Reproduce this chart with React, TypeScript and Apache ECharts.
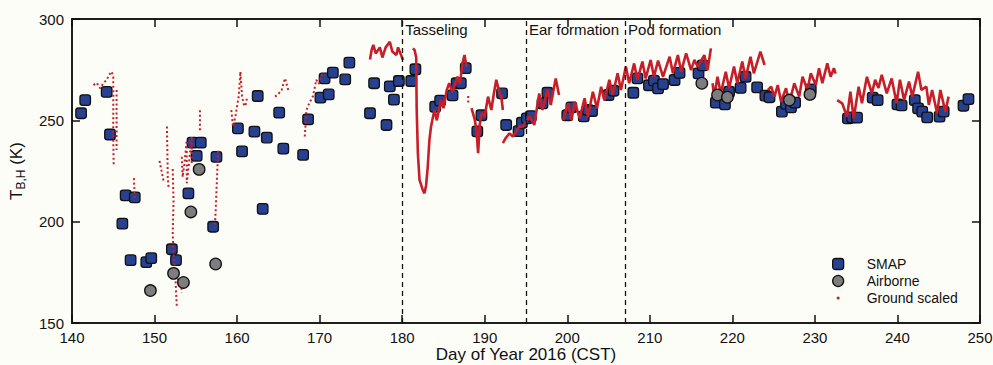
import React, { useEffect, useRef } from "react";
import * as echarts from "echarts";

const xTicks = [140, 150, 160, 170, 180, 190, 200, 210, 220, 230, 240, 250];
const yTicks = [150, 200, 250, 300];

const smapPoints: [number, number][] = [
  [141.1, 253.5], [141.6, 260], [144.2, 264], [144.6, 243], [146.1, 199], [146.5, 213],
  [147.1, 181], [147.6, 212], [149.0, 180], [149.6, 182], [152.1, 186.4], [152.6, 181],
  [154.1, 214], [154.6, 239], [155.1, 232.5], [155.6, 239], [157.1, 197.5], [157.5, 232],
  [160.1, 246], [160.6, 234.7], [162.1, 244.4], [162.5, 262], [163.1, 206.3], [163.6, 241.5],
  [165.1, 253.8], [165.6, 236], [168.0, 233], [168.6, 250.5], [170.1, 261.2], [170.6, 270.7],
  [171.1, 262.8], [171.6, 273.5], [173.1, 270.2], [173.6, 278.5], [176.1, 253.5], [176.6, 268.3],
  [178.1, 247.7], [178.5, 266.8], [179.0, 260.2], [179.6, 269.4], [181.1, 269.4], [181.6, 275.2],
  [184.0, 256.7], [184.6, 259.7], [186.1, 262.3], [186.6, 268.3], [187.1, 268.3], [187.7, 275.8],
  [189.1, 244.6], [189.6, 252.5], [192.1, 263.3], [192.6, 247.7], [194.1, 244.7], [194.5, 248.8],
  [195.1, 251], [195.6, 252.1], [197.0, 258.4], [197.6, 263.6], [200.0, 252.5], [200.5, 256.4],
  [202.0, 252], [202.5, 255.1], [203.0, 254.6], [205.0, 262.5], [205.6, 264.6], [208.0, 263.6],
  [208.5, 270.7], [209.9, 267.3], [210.5, 269.6], [211.0, 265.8], [211.6, 267.9], [213.0, 269.9],
  [213.6, 273.4], [215.9, 273.2], [216.4, 277.1], [218.0, 258.7], [219.1, 257.9], [219.6, 264.1],
  [221.0, 266], [221.6, 271.5], [223.0, 266.3], [224.0, 262.2], [224.5, 261.4], [226.0, 254.3],
  [226.5, 258.1], [227.1, 256.4], [227.6, 258.7], [229.5, 265.3], [234.0, 251], [234.5, 251.5],
  [235.1, 251.3], [237.0, 261.2], [237.6, 260], [240.0, 257.9], [240.5, 257.4], [242.1, 260],
  [242.5, 255.9], [243.0, 254.3], [243.6, 251.5], [245.1, 251.8], [245.6, 254.3], [248.0, 257.2],
  [248.6, 260.5],
];

const airbornePoints: [number, number][] = [
  [149.5, 166], [152.3, 174.5], [153.5, 170], [154.4, 204.8], [155.4, 225.8], [157.4, 179.1],
  [216.3, 268.3], [218.2, 262.5], [219.4, 261.4], [226.9, 260], [229.4, 262.8],
];

// sparse ground measurements (early season, drawn dotted)
const groundSparse: [number, number][][] = [
  [[142.6, 267.4], [143.0, 268.5], [143.4, 265.8], [143.8, 268.3], [144.2, 270], [144.5, 272.5],
   [144.8, 274], [145.0, 271.5], [145.0, 255], [145.0, 240], [145.05, 228]],
  [[145.4, 265], [145.4, 250], [145.4, 235.4]],
  [[147.5, 221.5], [147.6, 211]],
  [[150.6, 230], [150.9, 224], [151.1, 220]],
  [[151.5, 247], [151.55, 235], [151.6, 222], [151.7, 217]],
  [[152.2, 226], [152.3, 210], [152.2, 194], [152.3, 184], [152.5, 176], [152.6, 166], [152.7, 158]],
  [[152.8, 172], [153.0, 168], [153.2, 170], [153.3, 165]],
  [[153.3, 232], [153.4, 222], [153.6, 228], [153.9, 240], [153.9, 219], [154.1, 226], [154.5, 242], [154.5, 229]],
  [[155.5, 255], [155.5, 245]],
  [[157.7, 235], [157.6, 225], [157.5, 215], [157.4, 205], [157.3, 197]],
  [[159.3, 255], [159.5, 247], [159.8, 252], [160.2, 262], [160.4, 274], [160.5, 268], [160.6, 262],
   [160.8, 258], [161.0, 257], [161.2, 261]],
  [[164.6, 261.7], [165.0, 263], [165.4, 265], [165.8, 270.7], [166.2, 265]],
  [[168.2, 242], [168.4, 255], [168.7, 258], [169.2, 262], [169.6, 270], [169.9, 268], [170.4, 274]],
  [[188.0, 262], [188.0, 258]],
];

// dense ground measurements (drawn as continuous traces)
const groundDense: [number, number][][] = [
  [[176.1, 280], [176.3, 284.7], [176.5, 287.2], [176.8, 283], [177.3, 286], [177.6, 281], [178.0, 286],
   [178.5, 288.8], [178.8, 284], [179.3, 282.2], [179.5, 286], [180.1, 279.8]],
  [[181.3, 285.5], [181.5, 284.7], [181.7, 281], [181.75, 256.7], [181.9, 233.8], [182.1, 220.6],
   [182.5, 215.6], [182.7, 214], [182.9, 218], [183.1, 227.2], [183.3, 240.3], [183.5, 247],
   [183.9, 255.1], [184.2, 250], [184.7, 260], [185.0, 256], [185.4, 265], [185.7, 268.3],
   [186.1, 264], [186.7, 271.5], [187.0, 268], [187.3, 278.1], [187.55, 282.2], [187.8, 276.5]],
  [[188.4, 256], [188.8, 250.2], [189.0, 245], [189.2, 233.8], [189.4, 248], [189.6, 253.5],
   [190.0, 252], [190.4, 261.7], [190.8, 255.1], [191.1, 263], [191.4, 270], [191.8, 263.3],
   [192.0, 262], [192.2, 255.1]],
  [[192.2, 238.7], [192.5, 241], [193.0, 243.6], [193.4, 242], [193.8, 244.4], [194.2, 247],
   [194.6, 246.9], [195.0, 249], [195.4, 251.8], [195.7, 250], [196.0, 247.7], [196.6, 263.3],
   [197.0, 255.1], [197.6, 265], [198.0, 257.6], [198.6, 270.7], [199.0, 262.5]],
  [[199.5, 250.2], [200.1, 258.4], [200.5, 250.2], [200.9, 259.2], [201.5, 251], [202.1, 260.9],
   [202.5, 251.8], [203.1, 264.1], [203.6, 256], [204.1, 266.6], [204.5, 260], [205.1, 270],
   [205.5, 262.5], [206.1, 273.2], [206.5, 265], [207.1, 276.5], [207.5, 268.3], [208.1, 278.1],
   [208.5, 270], [209.1, 279], [209.5, 270.7], [210.1, 279.8], [210.5, 271.5], [211.0, 279.5],
   [211.6, 271.5], [212.4, 281.4], [212.8, 273.2], [213.4, 282.2], [213.8, 274], [214.4, 283.1],
   [215.0, 274.8], [215.4, 279.8], [215.8, 276.5], [216.6, 282.2], [217.0, 274.8], [217.4, 285.5]],
  [[217.6, 268.3], [217.8, 261.7], [218.2, 271.5], [218.6, 263.3], [219.2, 274], [219.6, 265.8],
   [220.2, 276.5], [220.6, 268.3], [221.2, 279], [221.6, 270.7], [222.2, 281.4], [222.6, 273.2],
   [223.4, 283.9], [223.9, 277.3]],
  [[224.3, 265], [224.7, 266.6], [225.1, 261.7], [225.5, 267.4], [225.9, 259.2], [226.5, 265.8],
   [226.9, 258.4], [227.5, 268.3], [228.1, 261.7], [228.5, 271.5], [229.1, 265], [229.5, 273.2],
   [230.1, 267.4], [230.5, 275.7], [230.9, 268.3], [231.5, 278.1], [231.9, 271.5], [232.3, 275.7],
   [232.5, 273]],
  [[232.7, 260], [233.3, 258.4], [233.9, 251.8], [234.3, 264.1], [234.7, 251], [235.3, 266.6],
   [235.7, 258.4], [236.3, 271.5], [236.9, 263.3], [237.3, 270], [237.7, 266], [238.1, 272.4],
   [238.7, 263.3], [239.3, 270.7], [239.9, 258.4], [240.3, 270], [240.8, 260], [241.4, 269.1],
   [241.8, 261.7], [242.5, 274], [242.9, 265], [243.5, 266.6], [243.8, 257.6], [244.2, 265],
   [244.8, 253.5], [245.2, 265], [245.8, 254.3], [246.2, 261.7]],
];

const stageDays = [180, 195, 207];
const stageNames = ["Tasseling", "Ear formation", "Pod formation"];

const FONT = "Liberation Sans";
const BG = "#fdfdf8";
const RED = "#c61f2a";
const BLUE = "#27408f";
const GRAY = "#7d7d7d";
const dotIcon =
  "path://M0,0 M10,10 M3.6,5 A1.4,1.4 0 1 0 6.4,5 A1.4,1.4 0 1 0 3.6,5 Z";

export default function App() {
  const ref = useRef<HTMLDivElement>(null);
  useEffect(() => {
    if (!ref.current) return;
    const chart = echarts.init(ref.current, undefined, { renderer: "svg" });
    const xMin = xTicks[0];
    const xMax = xTicks[xTicks.length - 1];
    const yMin = yTicks[0];
    const yMax = yTicks[yTicks.length - 1];

    const axisCommon = {
      type: "value" as const,
      axisLine: { show: true, onZero: false, lineStyle: { color: "#111", width: 1.5 } },
      axisTick: { show: true, inside: true, length: 8, lineStyle: { color: "#111", width: 1.5 } },
      splitLine: { show: false },
    };
    const series: any[] = [
      {
        type: "scatter",
        name: "SMAP",
        data: smapPoints,
        symbol: "roundRect",
        symbolSize: 10.5,
        itemStyle: { color: BLUE, borderColor: "#111", borderWidth: 1.3, opacity: 1 },
        z: 3,
        markLine: {
          silent: true,
          symbol: "none",
          label: { show: false },
          lineStyle: { color: "#111", type: [5, 4], width: 1.3 },
          data: stageDays.map((d) => ({ xAxis: d })),
        },
        markPoint: {
          silent: true,
          symbol: "rect",
          symbolSize: 0,
          data: stageDays.map((d, i) => ({
            coord: [d, yMax],
            label: {
              show: true,
              formatter: stageNames[i],
              position: "right",
              distance: 3,
              offset: [0, 10],
              color: "#111",
              fontFamily: FONT,
              fontSize: 15,
            },
          })),
        },
      },
    ];
    groundSparse.forEach((seg) => {
      series.push({
        type: "line",
        name: "Ground scaled",
        data: seg,
        showSymbol: false,
        symbol: "circle",
        lineStyle: { color: RED, width: 2, type: [2, 2.5] },
        itemStyle: { color: RED },
        z: 4,
      });
    });
    groundDense.forEach((seg) => {
      series.push({
        type: "line",
        name: "Ground scaled",
        data: seg,
        showSymbol: false,
        symbol: "circle",
        lineStyle: { color: RED, width: 2.6 },
        itemStyle: { color: RED },
        z: 4,
      });
    });
    series.push({
      type: "scatter",
      name: "Airborne",
      data: airbornePoints,
      symbol: "circle",
      symbolSize: 11.5,
      itemStyle: { color: GRAY, borderColor: "#111", borderWidth: 1.3, opacity: 1 },
      z: 5,
    });

    chart.setOption({
      animation: false,
      backgroundColor: BG,
      textStyle: { fontFamily: FONT },
      grid: {
        left: 72,
        top: 19,
        right: 13,
        bottom: 42,
        containLabel: false,
        outerBoundsMode: "none",
        show: true,
        borderColor: "#111",
        borderWidth: 1.5,
        backgroundColor: "transparent",
      },
      legend: {
        orient: "vertical",
        left: 832,
        top: 257,
        itemGap: 3,
        itemWidth: 11,
        itemHeight: 11,
        padding: 0,
        textStyle: { fontFamily: FONT, fontSize: 14, color: "#111", padding: [0, 0, 0, 18] },
        data: [
          { name: "SMAP", icon: "roundRect", itemStyle: { color: BLUE, borderColor: "#111", borderWidth: 1.3 } },
          { name: "Airborne", icon: "circle", itemStyle: { color: GRAY, borderColor: "#111", borderWidth: 1.3 } },
          { name: "Ground scaled", icon: dotIcon, itemStyle: { color: RED, borderWidth: 0 } },
        ],
      },
      xAxis: [
        {
          ...axisCommon,
          position: "bottom",
          min: xMin,
          max: xMax,
          interval: 10,
          name: "Day of Year 2016 (CST)",
          nameLocation: "middle",
          nameGap: 23,
          nameMoveOverlap: false,
          nameTextStyle: { fontFamily: FONT, fontSize: 17, color: "#111", lineHeight: 17 },
          axisLabel: { show: true, fontFamily: FONT, fontSize: 15, color: "#111", margin: 7 },
        },
        {
          ...axisCommon,
          position: "top",
          min: xMin,
          max: xMax,
          interval: 10,
          axisLabel: { show: false },
        },
      ],
      yAxis: [
        {
          ...axisCommon,
          position: "left",
          min: yMin,
          max: yMax,
          interval: 50,
          name: "{a|T}{b|B,H}{a| (K)}",
          nameLocation: "middle",
          nameRotate: 90,
          nameGap: 46,
          nameMoveOverlap: false,
          nameTextStyle: {
            color: "#111",
            rich: {
              a: { fontFamily: FONT, fontSize: 17, color: "#111", lineHeight: 20 },
              b: { fontFamily: FONT, fontSize: 12, color: "#111", lineHeight: 20, padding: [9, 0, 0, 0] },
            },
          },
          axisLabel: { show: true, fontFamily: FONT, fontSize: 15, color: "#111", margin: 8 },
        },
        {
          ...axisCommon,
          position: "right",
          min: yMin,
          max: yMax,
          interval: 50,
          axisLabel: { show: false },
        },
      ],
      series,
    });
    return () => chart.dispose();
  }, []);
  return (
    <div
      ref={ref}
      style={{ position: "fixed", left: 0, top: 0, width: 993, height: 365, background: BG }}
    />
  );
}
